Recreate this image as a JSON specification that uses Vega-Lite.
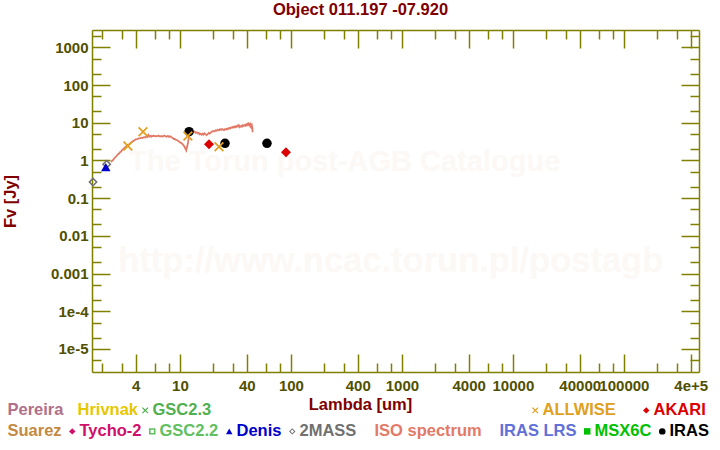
{
  "$schema": "https://vega.github.io/schema/vega-lite/v6.json",
  "width": 607,
  "height": 342,
  "autosize": {"type": "none"},
  "padding": {"left": 92, "top": 30, "right": 21, "bottom": 78},
  "background": "#ffffff",
  "title": {"text": "Object 011.197 -07.920", "color": "#800000", "font": "Liberation Sans", "fontSize": 16.5, "fontWeight": "bold", "anchor": "middle", "dx": -35, "offset": 10},
  "config": {
    "view": {"stroke": null},
    "font": "Liberation Sans",
    "axis": {"labelFont": "Liberation Sans", "labelFontWeight": "bold", "labelFontSize": 15, "labelColor": "#505000", "domainColor": "#808000", "domainWidth": 1.5, "tickColor": "#808000", "tickWidth": 1.5, "grid": false, "labelOverlap": false, "labelFlush": false, "titleFont": "Liberation Sans", "titleFontWeight": "bold", "titleFontSize": 16.5, "titleColor": "#800000"},
    "legend": {"labelFont": "Liberation Sans", "labelFontWeight": "bold", "labelFontSize": 16.5, "labelLimit": 0, "symbolSize": 42, "symbolStrokeWidth": 0, "labelOffset": -1, "symbolOffset": -3, "columnPadding": 5}
  },
  "datasets": {
    "phot": [
      {"cat": "2MASS", "lambda": 1.65, "flux": 0.267},
      {"cat": "2MASS", "lambda": 2.19, "flux": 0.79},
      {"cat": "Denis", "lambda": 2.15, "flux": 0.66},
      {"cat": "ALLWISE", "lambda": 3.4, "flux": 2.41},
      {"cat": "ALLWISE", "lambda": 4.65, "flux": 5.77},
      {"cat": "ALLWISE", "lambda": 11.8, "flux": 4.44},
      {"cat": "ALLWISE", "lambda": 22.5, "flux": 2.31},
      {"cat": "IRAS", "lambda": 12.1, "flux": 5.77},
      {"cat": "IRAS", "lambda": 25.5, "flux": 2.84},
      {"cat": "IRAS", "lambda": 60.9, "flux": 2.84},
      {"cat": "AKARI", "lambda": 18.3, "flux": 2.67},
      {"cat": "AKARI", "lambda": 90.3, "flux": 1.64}
    ],
    "nophot": [{"cat": "Pereira"}, {"cat": "Hrivnak"}, {"cat": "GSC2.3"}],
    "mark1": [{"text": "The Torun post-AGB Catalogue", "lambda": 305, "flux": 0.91}],
    "mark2": [{"text": "http://www.ncac.torun.pl/postagb", "lambda": 794, "flux": 0.002}],
    "iso": [
      {"lambda": 2.40, "flux": 0.90}, {"lambda": 2.45, "flux": 0.98}, {"lambda": 2.50, "flux": 1.02}, {"lambda": 2.55, "flux": 1.12},
      {"lambda": 2.60, "flux": 1.18}, {"lambda": 2.65, "flux": 1.25}, {"lambda": 2.70, "flux": 1.33}, {"lambda": 2.75, "flux": 1.42},
      {"lambda": 2.80, "flux": 1.50}, {"lambda": 2.85, "flux": 1.55}, {"lambda": 2.90, "flux": 1.68}, {"lambda": 2.95, "flux": 1.72},
      {"lambda": 3.00, "flux": 1.85}, {"lambda": 3.05, "flux": 1.92}, {"lambda": 3.10, "flux": 2.02}, {"lambda": 3.15, "flux": 2.10},
      {"lambda": 3.20, "flux": 2.22}, {"lambda": 3.25, "flux": 2.30}, {"lambda": 3.30, "flux": 2.38}, {"lambda": 3.35, "flux": 2.45},
      {"lambda": 3.40, "flux": 2.55}, {"lambda": 3.45, "flux": 2.62}, {"lambda": 3.50, "flux": 2.70}, {"lambda": 3.55, "flux": 2.78},
      {"lambda": 3.60, "flux": 2.92}, {"lambda": 3.65, "flux": 2.98}, {"lambda": 3.70, "flux": 3.08}, {"lambda": 3.80, "flux": 3.25},
      {"lambda": 3.90, "flux": 3.42}, {"lambda": 4.00, "flux": 3.60}, {"lambda": 4.10, "flux": 3.68}, {"lambda": 4.20, "flux": 3.78},
      {"lambda": 4.30, "flux": 3.85}, {"lambda": 4.40, "flux": 3.92}, {"lambda": 4.50, "flux": 4.02}, {"lambda": 4.60, "flux": 3.95},
      {"lambda": 4.70, "flux": 4.10}, {"lambda": 4.80, "flux": 4.15}, {"lambda": 4.90, "flux": 4.05}, {"lambda": 5.00, "flux": 4.35},
      {"lambda": 5.10, "flux": 4.20}, {"lambda": 5.20, "flux": 4.75}, {"lambda": 5.30, "flux": 4.30}, {"lambda": 5.40, "flux": 4.48},
      {"lambda": 5.50, "flux": 4.25}, {"lambda": 5.60, "flux": 4.50}, {"lambda": 5.70, "flux": 4.38}, {"lambda": 5.80, "flux": 4.55},
      {"lambda": 5.90, "flux": 4.40}, {"lambda": 6.00, "flux": 4.48}, {"lambda": 6.20, "flux": 4.35}, {"lambda": 6.40, "flux": 4.55},
      {"lambda": 6.60, "flux": 4.30}, {"lambda": 6.80, "flux": 4.42}, {"lambda": 7.00, "flux": 4.28}, {"lambda": 7.20, "flux": 4.58},
      {"lambda": 7.40, "flux": 4.40}, {"lambda": 7.60, "flux": 4.25}, {"lambda": 7.80, "flux": 4.45}, {"lambda": 8.00, "flux": 4.20},
      {"lambda": 8.20, "flux": 4.35}, {"lambda": 8.40, "flux": 4.10}, {"lambda": 8.60, "flux": 3.95}, {"lambda": 8.80, "flux": 3.70},
      {"lambda": 9.00, "flux": 3.72}, {"lambda": 9.20, "flux": 3.50}, {"lambda": 9.40, "flux": 3.45}, {"lambda": 9.60, "flux": 3.30},
      {"lambda": 9.80, "flux": 3.18}, {"lambda": 10.0, "flux": 3.05}, {"lambda": 10.2, "flux": 2.90}, {"lambda": 10.4, "flux": 2.85},
      {"lambda": 10.6, "flux": 2.65}, {"lambda": 10.8, "flux": 2.50}, {"lambda": 11.0, "flux": 2.30}, {"lambda": 11.2, "flux": 2.05},
      {"lambda": 11.4, "flux": 1.85}, {"lambda": 11.6, "flux": 2.30}, {"lambda": 11.8, "flux": 2.80}, {"lambda": 12.0, "flux": 3.90},
      {"lambda": 12.2, "flux": 4.80}, {"lambda": 12.4, "flux": 5.60}, {"lambda": 12.6, "flux": 6.10}, {"lambda": 12.8, "flux": 5.90},
      {"lambda": 13.0, "flux": 6.05}, {"lambda": 13.3, "flux": 5.70}, {"lambda": 13.6, "flux": 5.85}, {"lambda": 13.9, "flux": 5.40},
      {"lambda": 14.2, "flux": 5.55}, {"lambda": 14.5, "flux": 5.20}, {"lambda": 14.8, "flux": 5.35}, {"lambda": 15.1, "flux": 4.90},
      {"lambda": 15.4, "flux": 5.05}, {"lambda": 15.7, "flux": 4.80}, {"lambda": 16.0, "flux": 5.10}, {"lambda": 16.3, "flux": 4.85},
      {"lambda": 16.6, "flux": 5.25}, {"lambda": 17.0, "flux": 4.95}, {"lambda": 17.4, "flux": 4.70}, {"lambda": 17.8, "flux": 5.00},
      {"lambda": 18.2, "flux": 5.35}, {"lambda": 18.6, "flux": 5.15}, {"lambda": 19.0, "flux": 5.50}, {"lambda": 19.5, "flux": 5.80},
      {"lambda": 20.0, "flux": 6.05}, {"lambda": 20.5, "flux": 5.85}, {"lambda": 21.0, "flux": 6.30}, {"lambda": 21.5, "flux": 6.15},
      {"lambda": 22.0, "flux": 6.50}, {"lambda": 22.5, "flux": 6.25}, {"lambda": 23.0, "flux": 6.70}, {"lambda": 23.5, "flux": 6.45},
      {"lambda": 24.0, "flux": 6.80}, {"lambda": 24.5, "flux": 6.50}, {"lambda": 25.0, "flux": 6.35}, {"lambda": 25.5, "flux": 6.75},
      {"lambda": 26.0, "flux": 6.60}, {"lambda": 26.5, "flux": 6.95}, {"lambda": 27.0, "flux": 6.70}, {"lambda": 27.5, "flux": 7.10},
      {"lambda": 28.0, "flux": 7.30}, {"lambda": 28.5, "flux": 7.05}, {"lambda": 29.0, "flux": 7.55}, {"lambda": 29.5, "flux": 7.35},
      {"lambda": 30.0, "flux": 7.70}, {"lambda": 30.5, "flux": 7.45}, {"lambda": 31.0, "flux": 7.90}, {"lambda": 31.5, "flux": 7.60},
      {"lambda": 32.0, "flux": 8.05}, {"lambda": 32.5, "flux": 7.75}, {"lambda": 33.0, "flux": 8.40}, {"lambda": 33.5, "flux": 8.10},
      {"lambda": 34.0, "flux": 8.55}, {"lambda": 34.5, "flux": 7.70}, {"lambda": 35.0, "flux": 8.10}, {"lambda": 35.5, "flux": 7.85},
      {"lambda": 36.0, "flux": 8.30}, {"lambda": 36.5, "flux": 8.00}, {"lambda": 37.0, "flux": 8.60}, {"lambda": 37.5, "flux": 8.20},
      {"lambda": 38.0, "flux": 8.45}, {"lambda": 38.5, "flux": 8.70}, {"lambda": 39.0, "flux": 8.35}, {"lambda": 39.5, "flux": 8.90},
      {"lambda": 40.0, "flux": 8.55}, {"lambda": 40.5, "flux": 9.20}, {"lambda": 41.0, "flux": 8.75}, {"lambda": 41.5, "flux": 9.40},
      {"lambda": 42.0, "flux": 8.80}, {"lambda": 42.5, "flux": 9.10}, {"lambda": 43.0, "flux": 8.20}, {"lambda": 43.5, "flux": 8.90},
      {"lambda": 44.0, "flux": 7.80}, {"lambda": 44.5, "flux": 8.40}, {"lambda": 45.0, "flux": 7.10}, {"lambda": 45.2, "flux": 5.60}
    ]
  },
  "layer": [
    {
      "data": {"name": "mark1"},
      "mark": {"type": "text", "font": "Liberation Sans", "fontWeight": "bold", "fontSize": 29, "color": "#fbf8f5"},
      "encoding": {
        "x": {"field": "lambda", "type": "quantitative", "scale": {"type": "log", "domain": [1.615, 475000], "nice": false}, "axis": null},
        "y": {"field": "flux", "type": "quantitative", "scale": {"type": "log", "domain": [0.00000244, 2877], "nice": false}, "axis": null},
        "text": {"field": "text"}
      }
    },
    {
      "data": {"name": "mark2"},
      "mark": {"type": "text", "font": "Liberation Sans", "fontWeight": "bold", "fontSize": 34.5, "color": "#fbf8f5"},
      "encoding": {
        "x": {"field": "lambda", "type": "quantitative", "axis": null},
        "y": {"field": "flux", "type": "quantitative", "axis": null},
        "text": {"field": "text"}
      }
    },
    {
      "data": {"name": "nophot"},
      "mark": {"type": "point", "filled": true, "size": 100, "opacity": 1},
      "encoding": {
        "x": {"field": "lambda", "type": "quantitative", "axis": null},
        "y": {"field": "flux", "type": "quantitative", "axis": null},
        "color": {"field": "cat", "type": "nominal",
          "scale": {"domain": ["Pereira", "Hrivnak", "GSC2.3"], "range": ["#b0708a", "#e6c800", "#50b050"]},
          "legend": {"title": null, "orient": "none", "legendX": -97, "legendY": 372, "direction": "horizontal", "columns": 3, "columnPadding": 1,
            "labelColor": {"expr": "['#b0708a','#e6c800','#50b050'][indexof(['Pereira','Hrivnak','GSC2.3'], datum.value)]"}}},
        "shape": {"field": "cat", "type": "nominal",
          "scale": {"domain": ["Pereira", "Hrivnak", "GSC2.3"], "range": ["M0,0", "M0,0", "M-1,-0.75L-0.75,-1L0,-0.25L0.75,-1L1,-0.75L0.25,0L1,0.75L0.75,1L0,0.25L-0.75,1L-1,0.75L-0.25,0Z"]},
          "legend": {"title": null, "orient": "none", "legendX": -97, "legendY": 372, "direction": "horizontal", "columns": 3, "columnPadding": 1,
            "labelColor": {"expr": "['#b0708a','#e6c800','#50b050'][indexof(['Pereira','Hrivnak','GSC2.3'], datum.value)]"}}}
      }
    },
    {
      "encoding": {
        "x": {"field": "lambda", "type": "quantitative", "scale": {"type": "log", "domain": [1.615, 475000], "nice": false},
          "axis": {"orient": "bottom", "title": "Lambda [um]", "titleX": 268, "titleY": 32, "titleBaseline": "middle", "titleAlign": "center",
            "values": [2,3,4,6,8,10,20,30,40,60,80,100,200,300,400,600,800,1000,2000,3000,4000,6000,8000,10000,20000,30000,40000,60000,80000,100000,200000,300000,400000],
            "labelExpr": "datum.value == 400000 ? '4e+5' : indexof([4,10,40,100,400,1000,4000,10000,40000,100000], datum.value) >= 0 ? '' + datum.value : ''",
            "tickSize": {"condition": {"test": "indexof([4,10,40,100,400,1000,4000,10000,40000,100000,400000], datum.value) >= 0", "value": -18}, "value": -9},
            "labelPadding": 24}},
        "y": {"field": "flux", "type": "quantitative", "scale": {"type": "log", "domain": [0.00000244, 2877], "nice": false},
          "axis": {"orient": "left", "title": "Fv [Jy]", "titleX": -82, "titleY": 171, "titleAngle": -90, "titleBaseline": "middle", "titleAlign": "center",
            "values": [0.000005,0.00001,0.00002,0.00005,0.0001,0.0002,0.0005,0.001,0.002,0.005,0.01,0.02,0.05,0.1,0.2,0.5,1,2,5,10,20,50,100,200,500,1000,2000],
            "labelExpr": "datum.value == 0.0001 ? '1e-4' : datum.value == 0.00001 ? '1e-5' : indexof([1000,100,10,1,0.1,0.01,0.001], datum.value) >= 0 ? '' + datum.value : ''",
            "tickSize": {"condition": {"test": "indexof([0.00001,0.0001,0.001,0.01,0.1,1,10,100,1000], datum.value) >= 0", "value": -18}, "value": -9},
            "labelPadding": 22}}
      },
      "layer": [
        {"data": {"name": "iso"}, "mark": {"type": "line", "color": "#e37a67", "strokeWidth": 1.8}},
        {
          "data": {"name": "phot"},
          "transform": [{"filter": {"field": "cat", "oneOf": ["2MASS", "Denis", "IRAS"]}}],
          "mark": {"type": "point", "filled": true, "size": 90, "opacity": 1},
          "encoding": {
            "color": {"field": "cat", "type": "nominal",
              "scale": {"domain": ["Suarez", "Tycho-2", "GSC2.2", "Denis", "2MASS", "ISO spectrum", "IRAS LRS", "MSX6C", "IRAS"],
                        "range": ["#c48a42", "#d0106a", "#60c060", "#0000cc", "#707070", "#e37a67", "#6070d8", "#00c000", "#000000"]},
              "legend": {"title": null, "orient": "none", "legendX": -97, "legendY": 393, "direction": "horizontal", "columns": 9,
                "labelColor": {"expr": "['#c48a42','#d0106a','#60c060','#0000cc','#707070','#e37a67','#6070d8','#00c000','#000000'][indexof(['Suarez','Tycho-2','GSC2.2','Denis','2MASS','ISO spectrum','IRAS LRS','MSX6C','IRAS'], datum.value)]"}}},
            "shape": {"field": "cat", "type": "nominal",
              "scale": {"domain": ["Suarez", "Tycho-2", "GSC2.2", "Denis", "2MASS", "ISO spectrum", "IRAS LRS", "MSX6C", "IRAS"],
                        "range": ["M0,0", "diamond", "M-1,-1L1,-1L1,1L-1,1Z M-0.5,-0.5L-0.5,0.5L0.5,0.5L0.5,-0.5Z", "triangle-up", "M0,-1L1,0L0,1L-1,0Z M0,-0.55L-0.55,0L0,0.55L0.55,0Z", "M0,0", "M0,0", "square", "circle"]},
              "legend": {"title": null, "orient": "none", "legendX": -97, "legendY": 393, "direction": "horizontal", "columns": 9,
                "labelColor": {"expr": "['#c48a42','#d0106a','#60c060','#0000cc','#707070','#e37a67','#6070d8','#00c000','#000000'][indexof(['Suarez','Tycho-2','GSC2.2','Denis','2MASS','ISO spectrum','IRAS LRS','MSX6C','IRAS'], datum.value)]"}}}
          }
        }
      ]
    },
    {
      "data": {"name": "phot"},
      "transform": [{"filter": {"field": "cat", "oneOf": ["ALLWISE", "AKARI"]}}],
      "mark": {"type": "point", "filled": true, "size": 100, "opacity": 1},
      "encoding": {
        "x": {"field": "lambda", "type": "quantitative",
          "axis": {"orient": "top", "title": null, "labels": false,
            "values": [2,3,4,6,8,10,20,30,40,60,80,100,200,300,400,600,800,1000,2000,3000,4000,6000,8000,10000,20000,30000,40000,60000,80000,100000,200000,300000,400000],
            "tickSize": {"condition": {"test": "indexof([4,10,40,100,400,1000,4000,10000,40000,100000,400000], datum.value) >= 0", "value": -18}, "value": -9}}},
        "y": {"field": "flux", "type": "quantitative",
          "axis": {"orient": "right", "title": null, "labels": false,
            "values": [0.000005,0.00001,0.00002,0.00005,0.0001,0.0002,0.0005,0.001,0.002,0.005,0.01,0.02,0.05,0.1,0.2,0.5,1,2,5,10,20,50,100,200,500,1000,2000],
            "tickSize": {"condition": {"test": "indexof([0.00001,0.0001,0.001,0.01,0.1,1,10,100,1000], datum.value) >= 0", "value": -18}, "value": -9}}},
        "color": {"field": "cat", "type": "nominal",
          "scale": {"domain": ["ALLWISE", "AKARI"], "range": ["#e0a020", "#dd0000"]},
          "legend": {"title": null, "orient": "none", "legendX": 438, "legendY": 372, "direction": "horizontal", "columns": 2, "columnPadding": 25,
            "labelColor": {"expr": "['#e0a020','#dd0000'][indexof(['ALLWISE','AKARI'], datum.value)]"}}},
        "shape": {"field": "cat", "type": "nominal",
          "scale": {"domain": ["ALLWISE", "AKARI"], "range": ["M-1,-0.75L-0.75,-1L0,-0.25L0.75,-1L1,-0.75L0.25,0L1,0.75L0.75,1L0,0.25L-0.75,1L-1,0.75L-0.25,0Z", "diamond"]},
          "legend": {"title": null, "orient": "none", "legendX": 438, "legendY": 372, "direction": "horizontal", "columns": 2, "columnPadding": 25,
            "labelColor": {"expr": "['#e0a020','#dd0000'][indexof(['ALLWISE','AKARI'], datum.value)]"}}}
      }
    }
  ],
  "resolve": {"scale": {"color": "independent", "shape": "independent"}, "axis": {"x": "independent", "y": "independent"}}
}
